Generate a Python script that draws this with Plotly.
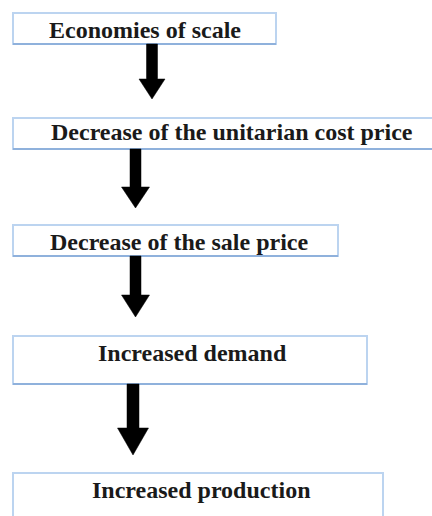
import plotly.graph_objects as go

# ---- content ----
steps = [
    "Economies of scale",
    "Decrease of the unitarian cost price",
    "Decrease of the sale price",
    "Increased demand",
    "Increased production",
]

# ---- layout (pixel coordinates, y grows downward) ----
box_x0 = [13, 13, 13, 13, 13]
box_x1 = [276, 445, 338, 367, 383]
box_y0 = [13, 118, 225, 336, 473]
box_y1 = [44, 149, 256, 384, 540]
text_x = [145, 232, 179, 192, 201]
text_y = [30, 132, 242, 353, 490]

# arrows between consecutive steps: centre x, shaft half-width, head half-width,
# start y, head-start y, tip y
arrow_cx = [152, 135.5, 135.5, 133]
arrow_shaft_hw = [5.5, 5.5, 5.5, 6]
arrow_head_hw = [13, 14, 14, 15.5]
arrow_y_start = [44, 149, 256, 384]
arrow_y_head = [79, 187, 295, 428]
arrow_y_tip = [99, 208, 317, 455]

W, H = 432, 516

fig = go.Figure()
fig.add_trace(go.Scatter(x=[0, W], y=[0, H], mode="markers",
                         marker=dict(opacity=0), hoverinfo="skip", showlegend=False))

shapes = []
for i in range(len(steps)):
    shapes.append(dict(type="rect", xref="x", yref="y",
                       x0=box_x0[i], x1=box_x1[i], y0=box_y0[i], y1=box_y1[i],
                       line=dict(color="#bcd4f0", width=2), fillcolor="white", layer="below"))
    shapes.append(dict(type="line", xref="x", yref="y",
                       x0=box_x0[i], x1=box_x1[i], y0=box_y1[i], y1=box_y1[i],
                       line=dict(color="#8fb1dc", width=2), layer="below"))

for i in range(len(arrow_cx)):
    cx = arrow_cx[i]
    s = arrow_shaft_hw[i]
    h = arrow_head_hw[i]
    ya, yb, yt = arrow_y_start[i], arrow_y_head[i], arrow_y_tip[i]
    path = (f"M {cx - s} {ya} L {cx + s} {ya} L {cx + s} {yb} L {cx + h} {yb} "
            f"L {cx} {yt} L {cx - h} {yb} L {cx - s} {yb} Z")
    shapes.append(dict(type="path", xref="x", yref="y", path=path,
                       fillcolor="black", line=dict(color="black", width=0.5)))

annotations = []
for i, label in enumerate(steps):
    annotations.append(dict(x=text_x[i], y=text_y[i], xref="x", yref="y",
                            text=f"<b>{label}</b>", showarrow=False,
                            xanchor="center", yanchor="middle",
                            font=dict(family="Liberation Serif", size=24, color="#1a1a1a")))

fig.update_layout(
    width=W, height=H,
    margin=dict(l=0, r=0, t=0, b=0),
    paper_bgcolor="white", plot_bgcolor="white",
    xaxis=dict(range=[0, W], visible=False, fixedrange=True),
    yaxis=dict(range=[H, 0], visible=False, fixedrange=True),
    shapes=shapes, annotations=annotations,
    showlegend=False,
)

fig.write_html("out.html",
               post_script="document.body.style.margin='0';document.body.style.overflow='hidden';",
               config={"displayModeBar": False})
